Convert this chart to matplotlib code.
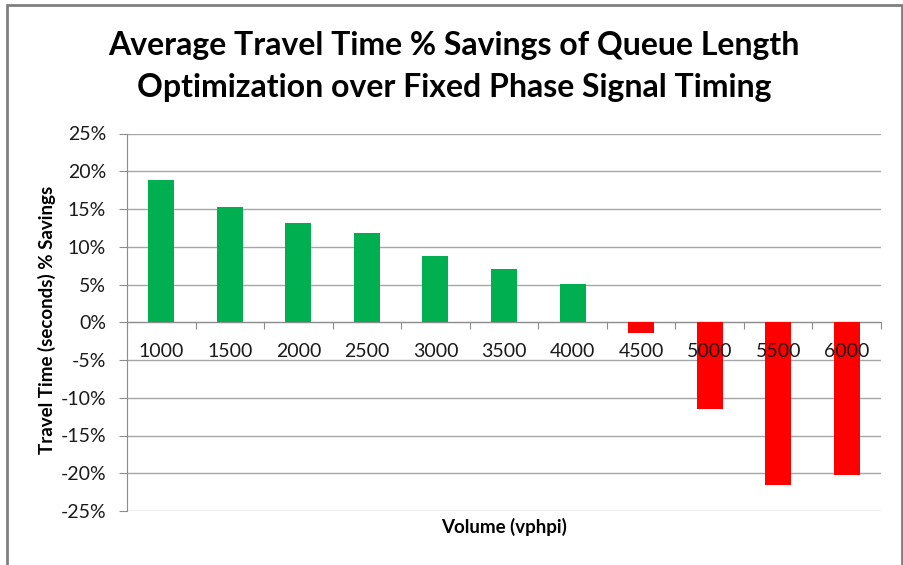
import numpy as np
import matplotlib.pyplot as plt
from matplotlib.patches import Rectangle

volumes = ['1000', '1500', '2000', '2500', '3000', '3500', '4000', '4500', '5000', '5500', '6000']
savings = [18.9, 15.3, 13.1, 11.8, 8.8, 7.0, 5.1, -1.4, -11.5, -21.6, -20.2]
yticks = [-25, -20, -15, -10, -5, 0, 5, 10, 15, 20, 25]

plt.rcParams['font.family'] = ['Lato', 'DejaVu Sans']

fig = plt.figure(figsize=(9.04, 5.65), dpi=100)
ax = fig.add_axes([127/904, 1-511/565, (881-127)/904, (511-133.5)/565])

x = np.arange(len(volumes))
colores = ['#00b050' if v >= 0 else '#ff0000' for v in savings]
ax.bar(x, savings, width=0.38, color=colores, zorder=3)

ax.set_xlim(-0.5, len(volumes) - 0.5)
ax.set_ylim(-25, 25)
ax.set_yticks(yticks)
ax.set_yticklabels([str(t) + '%' for t in yticks], fontsize=14, color='#1a1a1a')
ax.grid(axis='y', color='#a6a6a6', linewidth=1, zorder=0)

# eixo x no zero, marcas entre as categorias
ax.spines['bottom'].set_position(('data', 0))
ax.spines['bottom'].set_color('#8c8c8c')
ax.spines['left'].set_color('#8c8c8c')
ax.spines['top'].set_visible(False)
ax.spines['right'].set_visible(False)
ax.set_xticks(np.arange(len(volumes) + 1) - 0.5)
ax.set_xticklabels([])
ax.tick_params(axis='x', which='major', length=5, color='#8c8c8c', direction='out')
ax.tick_params(axis='y', length=6, color='#8c8c8c', pad=9)

# rotulos por cima das barras
for i in range(len(volumes)):
    ax.annotate(volumes[i], xy=(x[i], 0), xytext=(0, -15), textcoords='offset points',
                ha='center', va='top', fontsize=14, color='#1a1a1a', zorder=5)

fig.text(0.5025, 1-45/565, 'Average Travel Time % Savings of Queue Length',
         ha='center', va='center', fontsize=23, fontweight='bold')
fig.text(0.5025, 1-88/565, 'Optimization over Fixed Phase Signal Timing',
         ha='center', va='center', fontsize=23, fontweight='bold')
fig.text(504/904, 1-527/565, 'Volume (vphpi)', ha='center', va='center',
         fontsize=13.5, fontweight='bold')
fig.text(47/904, 1-320/565, 'Travel Time (seconds) % Savings', ha='center', va='center',
         rotation=90, fontsize=13.5, fontweight='bold')

# moldura do grafico
fig.patches.append(Rectangle((7/904, -0.1), (902-7)/904, 1.1-5/565, transform=fig.transFigure,
                             fill=False, edgecolor='#808080', linewidth=2))

fig.savefig('out.png', dpi=100)
